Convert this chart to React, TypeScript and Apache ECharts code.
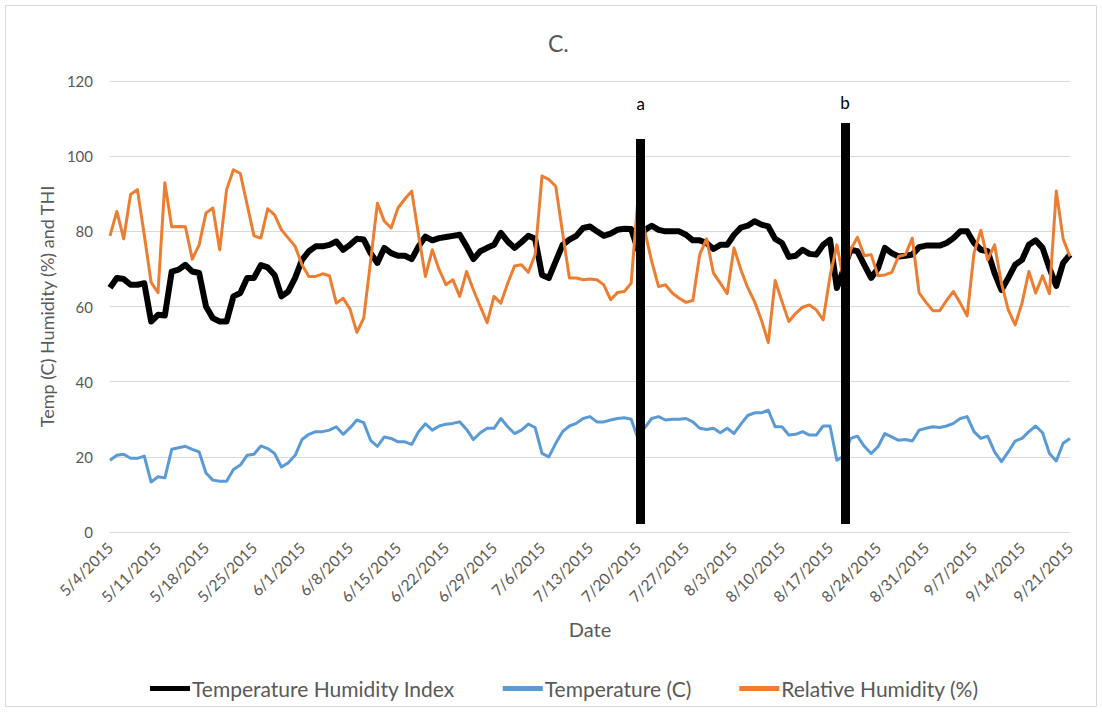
import React, { useEffect, useRef } from "react";
import * as echarts from "echarts";

const FONT = "Lato, 'Liberation Sans', sans-serif";

const tickLabels = [
  "5/4/2015", "5/11/2015", "5/18/2015", "5/25/2015", "6/1/2015", "6/8/2015", "6/15/2015",
  "6/22/2015", "6/29/2015", "7/6/2015", "7/13/2015", "7/20/2015", "7/27/2015", "8/3/2015",
  "8/10/2015", "8/17/2015", "8/24/2015", "8/31/2015", "9/7/2015", "9/14/2015", "9/21/2015",
];

// daily values, 5/4/2015 .. 9/21/2015 (141 days)
const thi = [
  65, 67.6, 67.3, 65.8, 65.8, 66.2, 56, 57.8, 57.6, 69.3,
  69.8, 71.1, 69.3, 68.9, 60, 56.9, 56, 56, 62.7, 63.6,
  67.6, 67.6, 71, 70.4, 68.4, 62.7, 64, 67.6, 72.4, 74.7,
  76, 76, 76.4, 77.3, 75.1, 76.4, 78, 77.8, 74.2, 71.6,
  75.6, 74.2, 73.5, 73.5, 72.6, 76, 78.6, 77.6, 78.2, 78.5,
  78.8, 79.1, 76, 72.6, 74.7, 75.6, 76.4, 79.6, 77.3, 75.6,
  77.1, 78.8, 78, 68.4, 67.6, 72, 76.4, 77.8, 78.8, 80.9,
  81.3, 80, 78.8, 79.4, 80.4, 80.7, 80.6, 75.1, 80.4, 81.5,
  80.4, 80, 80, 80, 79.1, 77.6, 77.6, 76.9, 75.3, 76.4,
  76.4, 79.1, 81, 81.5, 82.7, 81.8, 81.3, 78, 76.9, 73.2,
  73.5, 75.1, 74, 73.8, 76.4, 77.8, 64.9, 70, 75.1, 74.7,
  71.1, 67.6, 70.2, 75.6, 74.2, 73.3, 73.5, 73.8, 75.8, 76.2,
  76.2, 76.2, 76.9, 78.2, 80, 80, 76.9, 75.1, 74.7, 68.9,
  64.4, 67.6, 71.1, 72.4, 76.4, 77.6, 75.6, 70.2, 65.5, 71.6,
  73.8,
];

const temperature = [
  19.1, 20.4, 20.7, 19.6, 19.6, 20.2, 13.3, 14.7, 14.4, 22,
  22.4, 22.8, 22, 21.3, 15.7, 13.8, 13.5, 13.5, 16.6, 17.8,
  20.4, 20.7, 22.9, 22.2, 20.9, 17.3, 18.4, 20.4, 24.6, 26,
  26.7, 26.7, 27.1, 28, 26, 27.7, 29.8, 29.1, 24.4, 22.8,
  25.3, 24.9, 24, 24, 23.3, 26.7, 28.8, 27.1, 28.2, 28.7,
  28.9, 29.3, 27.3, 24.6, 26.4, 27.6, 27.6, 30.2, 28, 26.2,
  27.1, 28.7, 27.8, 20.9, 20, 23.6, 26.7, 28.2, 28.9, 30.2,
  30.7, 29.3, 29.3, 29.8, 30.2, 30.4, 30, 24.9, 27.8, 30.2,
  30.7, 29.8, 30, 30, 30.2, 29.3, 27.6, 27.3, 27.6, 26.4,
  27.6, 26.2, 28.7, 31, 31.7, 31.7, 32.4, 28, 28, 25.8,
  26, 26.7, 25.8, 25.8, 28.2, 28.2, 19.1, 20.2, 24.9, 25.5,
  22.8, 20.9, 22.7, 26.2, 25.3, 24.4, 24.6, 24.2, 27.1, 27.6,
  28, 27.8, 28.2, 28.9, 30.2, 30.7, 26.7, 24.9, 25.5, 21.3,
  18.7, 21.3, 24.2, 24.9, 26.7, 28.2, 26.4, 20.9, 18.9, 23.6,
  24.9,
];

const humidity = [
  78.8, 85.3, 78, 89.8, 91.1, 79, 66.4, 63.7, 92.9, 81.2,
  81.3, 81.2, 72.6, 76.4, 84.9, 86.2, 75.1, 91.1, 96.4, 95.4,
  87.1, 78.8, 78.2, 86, 84.4, 80.4, 78.2, 76, 71.1, 68,
  68, 68.7, 68.2, 60.9, 62.2, 59.3, 53.1, 56.9, 72, 87.5,
  82.7, 80.9, 86.2, 88.6, 90.7, 79, 68, 75.1, 69.8, 65.8,
  67.1, 62.7, 69.3, 64.4, 60, 55.7, 62.7, 60.9, 66.2, 70.8,
  71.1, 69.1, 73.8, 94.7, 93.8, 92, 79.6, 67.6, 67.6, 67.1,
  67.3, 67.1, 65.8, 61.8, 63.7, 64, 66.2, 89, 80, 72,
  65.3, 65.8, 63.6, 62.2, 61.1, 61.6, 73.8, 78, 68.9, 66.2,
  63.4, 75.6, 69.8, 65, 61.3, 56.4, 50.4, 66.9, 61.3, 56,
  58.2, 59.8, 60.4, 59.1, 56.4, 68, 76.4, 67, 75.1, 78.4,
  73.5, 73.8, 68.2, 68.4, 69.1, 73.3, 73.8, 78.2, 63.6, 61.1,
  58.9, 58.9, 61.6, 64, 60.9, 57.5, 74.2, 80.3, 72.4, 76.4,
  66.2, 59.1, 55.1, 60.9, 69.3, 63.6, 68.2, 63.4, 90.7, 78,
  73.3,
];

// annotation bars: [day position, bottom value, top value, label]
const markerNames = ["a", "b"];
const markerDay = [77.4, 107.2];
const markerBottom = [2.1, 2.1];
const markerTop = [104.6, 108.8];
const markerLabelGap = [27, 12];

const seriesNames = ["Temperature Humidity Index", "Temperature (C)", "Relative Humidity (%)"];

const toPairs = (arr: number[]) => arr.map((v, i) => [i, v]);

export default function App() {
  const ref = useRef<HTMLDivElement>(null);
  useEffect(() => {
    if (!ref.current) return;
    const chart = echarts.init(ref.current, undefined, { renderer: "svg" });
    const axisText = { color: "#595959", fontFamily: FONT };
    const option: any = {
      animation: false,
      backgroundColor: "#ffffff",
      title: {
        text: "C.",
        left: 543,
        top: 26,
        textStyle: { fontSize: 23, fontWeight: "normal", color: "#595959", fontFamily: FONT },
      },
      graphic: [
        {
          type: "rect",
          shape: { x: 5.5, y: 5.5, width: 1091, height: 701 },
          style: { fill: "none", stroke: "#d9d9d9", lineWidth: 1 },
          silent: true,
        },
      ],
      grid: { left: 110, right: 32, top: 81, bottom: 180 },
      legend: {
        data: seriesNames,
        top: 673,
        left: 145,
        itemGap: 48,
        itemWidth: 40,
        itemHeight: 5,
        icon: "rect",
        textStyle: { fontSize: 21, color: "#595959", fontFamily: FONT, padding: [0, 0, 0, -3] },
      },
      xAxis: {
        type: "value",
        min: 0,
        max: 140,
        interval: 7,
        name: "Date",
        nameLocation: "middle",
        nameGap: 87,
        nameTextStyle: { fontSize: 20, ...axisText },
        axisLine: { show: true, lineStyle: { color: "#d9d9d9", width: 1 } },
        axisTick: { show: false },
        splitLine: { show: false },
        axisLabel: {
          rotate: 45,
          fontSize: 15.5,
          margin: 13,
          ...axisText,
          formatter: (v: number) => tickLabels[Math.round(v / 7)] ?? "",
        },
      },
      yAxis: {
        type: "value",
        min: 0,
        max: 120,
        interval: 20,
        name: "Temp (C) Humidity (%) and THI",
        nameLocation: "middle",
        nameGap: 54,
        nameTextStyle: { fontSize: 18, ...axisText },
        axisLine: { show: false },
        axisTick: { show: false },
        splitLine: { lineStyle: { color: "#d9d9d9", width: 1 } },
        axisLabel: { fontSize: 15, margin: 17, ...axisText },
      },
      series: [
        {
          name: seriesNames[0],
          type: "line",
          data: toPairs(thi),
          symbol: "none",
          color: "#000000",
          lineStyle: { color: "#000000", width: 6, join: "round" },
        },
        {
          name: seriesNames[1],
          type: "line",
          data: toPairs(temperature),
          symbol: "none",
          color: "#5b9bd5",
          lineStyle: { color: "#5b9bd5", width: 3, join: "round" },
        },
        {
          name: seriesNames[2],
          type: "line",
          data: toPairs(humidity),
          symbol: "none",
          color: "#ed7d31",
          lineStyle: { color: "#ed7d31", width: 3, join: "round" },
        },
        {
          name: "markers",
          type: "line",
          data: [],
          z: 5,
          markLine: {
            silent: true,
            symbol: ["none", "none"],
            lineStyle: { color: "#000000", width: 9, type: "solid" },
            label: { show: true, position: "end", color: "#000000", fontSize: 17, fontFamily: FONT },
            data: markerNames.map((n, i) => [
              {
                coord: [markerDay[i], markerBottom[i]],
                label: { show: true, formatter: n, distance: markerLabelGap[i], position: "end" },
                lineStyle: { color: "#000000", width: 9, type: "solid" },
              },
              {
                coord: [markerDay[i], markerTop[i]],
                label: { show: true, formatter: n, distance: markerLabelGap[i], position: "end" },
              },
            ]),
          },
        },
      ],
    };
    chart.setOption(option);
    return () => chart.dispose();
  }, []);
  return (
    <div
      ref={ref}
      style={{ position: "absolute", left: 0, top: 0, width: 1102, height: 712, background: "#fff" }}
    />
  );
}
